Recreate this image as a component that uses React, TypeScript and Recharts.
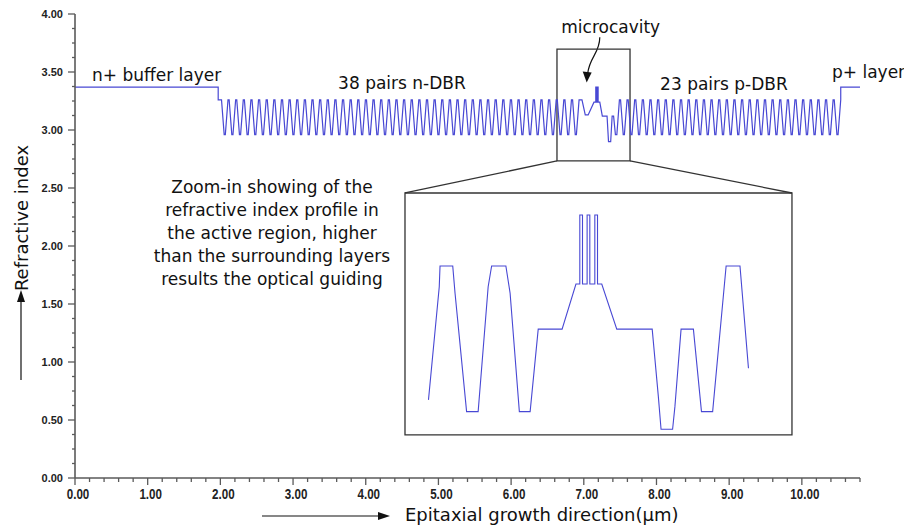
import React from 'react';
import { LineChart, Line, XAxis, YAxis, ReferenceArea, ReferenceLine, Customized } from 'recharts';

// layer stack (position in µm, refractive index)
const bufferLayer = { end: 1.97, n: 3.37 };
const dbrHigh = 3.26;
const dbrLow = 2.96;
const dbrPeriod = 0.105;
const dbrShape = [0, 0.15, 0.5, 0.65]; // fraction of a pair: high, high, low, low
const nDbr = { start: 2.0, pairs: 47 };
const pDbr = { start: 7.49, pairs: 29 };
const capLayer = { n: 3.37, end: 10.8 };

// active region between the two mirrors
const cavityX = [6.975, 7.02, 7.06, 7.14, 7.165, 7.165, 7.172, 7.172, 7.178, 7.178, 7.185, 7.185, 7.19, 7.19, 7.197, 7.197, 7.22, 7.255, 7.32, 7.34, 7.37, 7.39, 7.41, 7.435, 7.455];
const cavityN = [3.26, 3.13, 3.13, 3.24, 3.24, 3.37, 3.37, 3.24, 3.24, 3.37, 3.37, 3.24, 3.24, 3.37, 3.37, 3.24, 3.24, 3.12, 3.12, 2.9, 2.9, 3.12, 3.12, 2.96, 2.96];

// zoomed profile shown in the inset (units of the small box)
const insetX = [6.692, 6.72, 6.722, 6.755, 6.761, 6.791, 6.821, 6.847, 6.856, 6.893, 6.904, 6.928, 6.956, 6.977, 7.039, 7.075, 7.085, 7.085, 7.092, 7.092, 7.104, 7.104, 7.111, 7.111, 7.124, 7.124, 7.131, 7.131, 7.142, 7.181, 7.273, 7.289, 7.296, 7.326, 7.332, 7.348, 7.38, 7.401, 7.43, 7.465, 7.501, 7.523];
const insetN = [2.873, 3.324, 3.407, 3.407, 3.298, 2.826, 2.826, 3.324, 3.407, 3.407, 3.298, 2.826, 2.826, 3.155, 3.155, 3.335, 3.335, 3.61, 3.61, 3.335, 3.335, 3.61, 3.61, 3.335, 3.335, 3.61, 3.61, 3.335, 3.335, 3.155, 3.155, 2.886, 2.756, 2.756, 2.846, 3.155, 3.155, 2.826, 2.826, 3.407, 3.407, 2.999];

// zoom box and inset frame (main axis units)
const zoomBox = { x1: 6.631, x2: 7.636, y1: 2.733, y2: 3.698 };
const insetBox = { x1: 4.54, x2: 9.864, y1: 0.371, y2: 2.457 };

const X_MAX = 10.8;
const Y_MAX = 4;
const xTicks = Array.from({ length: 55 }, (_, i) => Math.round(i * 2) / 10);
const yTicks = Array.from({ length: 33 }, (_, i) => i * 0.125);

const W = 904;
const H = 526;
const PLOT_LEFT = 75;
const PLOT_RIGHT = 860;
const PLOT_TOP = 14;
const PLOT_BOTTOM = 478;
const AXIS = '#5a5a5a';
const LINE = '#4848d4';
const TXT = 'DejaVu Sans, sans-serif';

const px = (x: number) => PLOT_LEFT + (x / X_MAX) * (PLOT_RIGHT - PLOT_LEFT);
const py = (y: number) => PLOT_BOTTOM - (y / Y_MAX) * (PLOT_BOTTOM - PLOT_TOP);

function buildDbr(start: number, pairs: number) {
  const pts: { x: number; n: number }[] = [];
  for (let i = 0; i < pairs; i++) {
    const x0 = start + i * dbrPeriod;
    dbrShape.forEach((f, k) => pts.push({ x: x0 + f * dbrPeriod, n: k < 2 ? dbrHigh : dbrLow }));
  }
  pts.push({ x: start + pairs * dbrPeriod, n: dbrHigh });
  return pts;
}

const pEnd = pDbr.start + pDbr.pairs * dbrPeriod;
const profile = [
  { x: 0, n: bufferLayer.n },
  { x: bufferLayer.end, n: bufferLayer.n },
  { x: bufferLayer.end, n: dbrHigh },
  ...buildDbr(nDbr.start, nDbr.pairs),
  ...cavityX.map((x, i) => ({ x, n: cavityN[i] })),
  ...buildDbr(pDbr.start, pDbr.pairs),
  { x: pEnd, n: capLayer.n },
  { x: capLayer.end, n: capLayer.n },
];
const insetData = insetX.map((x, i) => ({ x, n: insetN[i] }));

// hidden axes that map the zoom box range onto the inset frame
function mapDomain(a0: number, a1: number, b0: number, b1: number, max: number): [number, number] {
  const span = ((a1 - a0) * max) / (b1 - b0);
  const d0 = a0 - (b0 / max) * span;
  return [d0, d0 + span];
}
const insetXDomain = mapDomain(zoomBox.x1, zoomBox.x2, insetBox.x1, insetBox.x2, X_MAX);
const insetYDomain = mapDomain(zoomBox.y1, zoomBox.y2, insetBox.y1, insetBox.y2, Y_MAX);

const YTick = (props: any) => {
  const { y, payload } = props;
  const v = payload.value as number;
  const major = Math.abs(v * 2 - Math.round(v * 2)) < 1e-6;
  return (
    <g>
      <line x1={PLOT_LEFT - (major ? 7 : 3)} x2={PLOT_LEFT} y1={y} y2={y} stroke={AXIS} strokeWidth={1.3} />
      {major && (
        <text x={PLOT_LEFT - 12} y={y} dy="0.36em" textAnchor="end" fontFamily="Liberation Sans, Arial" fontWeight="bold" fontSize={11} fill="#222">
          {v.toFixed(2)}
        </text>
      )}
    </g>
  );
};

const XTick = (props: any) => {
  const { x, payload } = props;
  const v = payload.value as number;
  const major = Math.abs(v - Math.round(v)) < 1e-6;
  return (
    <g>
      <line x1={x} x2={x} y1={PLOT_BOTTOM} y2={PLOT_BOTTOM + (major ? 7 : 4)} stroke={AXIS} strokeWidth={1.3} />
      {major && (
        <text transform={`translate(${x + 3},${PLOT_BOTTOM + 21}) scale(0.8,1)`} textAnchor="middle" fontFamily="Liberation Sans, Arial" fontWeight="bold" fontSize={14.5} fill="#222">
          {v.toFixed(2)}
        </text>
      )}
    </g>
  );
};

const note = { fontFamily: TXT, fontSize: 17, fill: '#111' };
const paragraph = ['Zoom-in showing of the', 'refractive index profile in', 'the active region, higher', 'than the surrounding layers', 'results the optical guiding'];

const Annotations = () => {
  const ax = px(7.22), ay = py(3.8);
  const tx = px(7.04), ty = py(3.41);
  return (
    <g>
      <text x={px(0.234)} y={py(3.42)} {...note}>n+ buffer layer</text>
      <text x={px(3.62)} y={py(3.353)} {...note}>38 pairs n-DBR</text>
      <text x={px(6.69)} y={py(3.836)} {...note}>microcavity</text>
      <text x={px(8.05)} y={py(3.345)} {...note}>23 pairs p-DBR</text>
      <text x={px(10.415)} y={py(3.448)} {...note}>p+ layer</text>
      {paragraph.map((s, i) => (
        <text key={s} x={px(2.71)} y={py(2.46) + i * 23} textAnchor="middle" {...note}>{s}</text>
      ))}
      <path d={`M${ax},${ay} C${ax},${ay + 16} ${tx + 3},${ty - 26} ${tx + 1},${ty - 9}`} fill="none" stroke="#111" strokeWidth={1.2} />
      <polygon points={`${tx},${ty} ${tx - 4},${ty - 11} ${tx + 5},${ty - 10}`} fill="#111" />
      {/* axis titles */}
      <text transform={`translate(28,218) rotate(-90)`} textAnchor="middle" fontFamily={TXT} fontSize={18} fill="#111">Refractive index</text>
      <line x1={21} x2={21} y1={380} y2={300} stroke="#111" strokeWidth={1.2} />
      <polygon points="21,290 17,302 25,302" fill="#111" />
      <text x={405} y={521} fontFamily={TXT} fontSize={18} fill="#111">Epitaxial growth direction(μm)</text>
      <line x1={262} x2={380} y1={516} y2={516} stroke="#111" strokeWidth={1.2} />
      <polygon points="390,516 378,512 378,520" fill="#111" />
    </g>
  );
};

export default function App() {
  return (
    <div style={{ position: 'absolute', left: 0, top: 0, width: W, height: H, background: '#fff' }}>
      <LineChart width={W} height={H} margin={{ top: PLOT_TOP, right: W - PLOT_RIGHT, bottom: 8, left: 15 }}>
        <XAxis xAxisId={0} dataKey="x" type="number" domain={[0, X_MAX]} ticks={xTicks} interval={0}
          tick={XTick} tickLine={false} axisLine={{ stroke: AXIS, strokeWidth: 1.6 }} height={40} allowDataOverflow />
        <YAxis yAxisId={0} type="number" domain={[0, Y_MAX]} ticks={yTicks} interval={0}
          tick={YTick} tickLine={false} axisLine={{ stroke: AXIS, strokeWidth: 1.6 }} width={60} allowDataOverflow />
        <XAxis xAxisId="inset" dataKey="x" type="number" domain={insetXDomain} hide allowDataOverflow />
        <YAxis yAxisId="inset" type="number" domain={insetYDomain} hide allowDataOverflow />
        <ReferenceArea x1={zoomBox.x1} x2={zoomBox.x2} y1={zoomBox.y1} y2={zoomBox.y2} fill="none" stroke="#333" strokeWidth={1.3} />
        <ReferenceArea x1={insetBox.x1} x2={insetBox.x2} y1={insetBox.y1} y2={insetBox.y2} fill="none" stroke="#333" strokeWidth={1.3} />
        <ReferenceLine segment={[{ x: zoomBox.x1, y: zoomBox.y1 }, { x: insetBox.x1, y: insetBox.y2 }]} stroke="#333" strokeWidth={1.3} />
        <ReferenceLine segment={[{ x: zoomBox.x2, y: zoomBox.y1 }, { x: insetBox.x2, y: insetBox.y2 }]} stroke="#333" strokeWidth={1.3} />
        <Line data={profile} dataKey="n" type="linear" stroke={LINE} strokeWidth={1.2} dot={false} isAnimationActive={false} />
        <Line data={insetData} xAxisId="inset" yAxisId="inset" dataKey="n" type="linear" stroke={LINE} strokeWidth={1.1} dot={false} isAnimationActive={false} />
        <Customized component={Annotations} />
      </LineChart>
    </div>
  );
}
